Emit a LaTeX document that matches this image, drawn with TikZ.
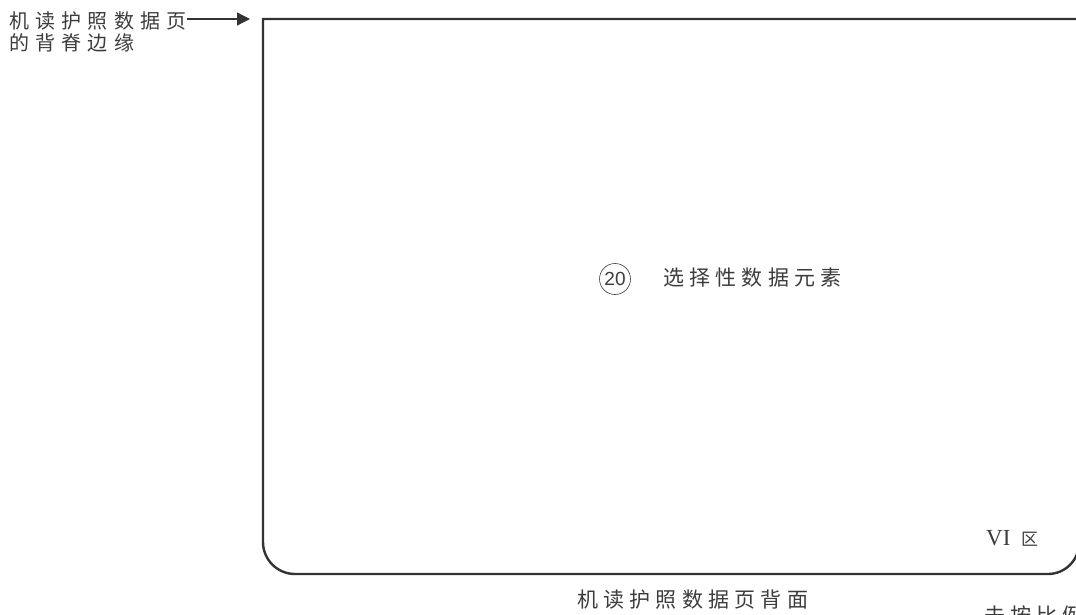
\documentclass[tikz,border=0pt]{standalone}
\usepackage{fontspec}
\setmainfont{Liberation Serif}
\newfontfamily\cjkA[LetterSpace=31]{Noto Sans CJK SC}
\newfontfamily\cjkB[LetterSpace=25]{Noto Sans CJK SC}
\newfontfamily\cjkP{Noto Sans CJK SC}
\newfontfamily\numfont{Liberation Sans}
\usetikzlibrary{arrows.meta}
\definecolor{ink}{HTML}{333333}
\definecolor{txt}{HTML}{3C3C3C}
\begin{document}
\begin{tikzpicture}[x=1pt,y=-1pt,
  lbl/.style={inner sep=0pt,text=txt,anchor=west},
  frame/.style={draw=ink,line width=2.4pt},
  pointer/.style={draw=ink,line width=1.3pt,-{Triangle[length=13pt,width=13pt]}}]
\useasboundingbox (0,0) rectangle (1076,615);
% frame
\coordinate (tl) at (263,19);
\draw[frame] (1095,19) -- (tl) -- (263,542) arc[start angle=180,end angle=90,x radius=32,y radius=32]
  -- (1048,574) arc[start angle=90,end angle=0,x radius=31,y radius=31] -- (1079,19) -- (1095,19);
% spine label
\node[lbl,font=\cjkA\fontsize{20}{20}\selectfont] (l1) at (9,21) {机读护照数据页};
\node[lbl,font=\cjkA\fontsize{20}{20}\selectfont] (l2) at (9,43) {的背脊边缘};
\coordinate (arrowend) at (250,19);
\draw[pointer] (l1.east|-arrowend) -- (arrowend);
% centre
\node[draw=txt,circle,line width=0.6pt,minimum size=31pt,inner sep=0pt,text=txt,
  font=\numfont\fontsize{19}{19}\selectfont] (n20) at (615,279) {20};
\node[lbl,font=\cjkB\fontsize{21}{21}\selectfont] (opt) at (663,278) {选择性数据元素};
% zone label
\node[inner sep=0pt,anchor=base west,text=txt,font=\fontsize{23}{23}\selectfont] (vi) at (986,545) {VI};
\node[inner sep=0pt,anchor=base west,text=txt,font=\cjkP\fontsize{17}{17}\selectfont] (qu) at (1021,545) {区};
% caption
\node[lbl,font=\cjkB\fontsize{21}{21}\selectfont] (cap) at (577,600) {机读护照数据页背面};
\node[lbl,font=\cjkB\fontsize{21}{21}\selectfont] (scale) at (984,615) {未按比例绘制};
\end{tikzpicture}
\end{document}
